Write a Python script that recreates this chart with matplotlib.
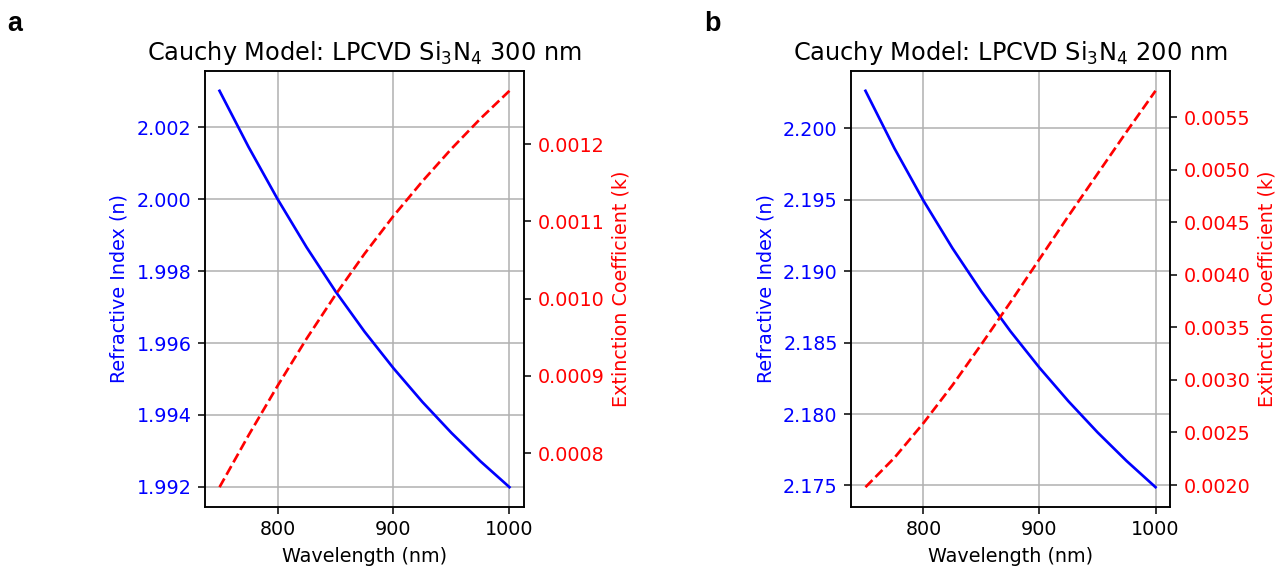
import matplotlib
matplotlib.use("Agg")
import matplotlib.pyplot as plt

# wavelength samples (nm)
wavelength = [750, 775, 800, 825, 850, 875, 900, 925, 950, 975, 1000]

# 300 nm film
n_300 = [2.00302, 2.00146, 2.00001, 1.99867, 1.99744, 1.99632, 1.99530,
         1.99436, 1.99350, 1.99271, 1.99199]
k_300 = [0.000756, 0.000823, 0.000887, 0.000948, 0.001005, 0.001058,
         0.001107, 0.001152, 0.001194, 0.001233, 0.001269]

# 200 nm film
n_200 = [2.20263, 2.19860, 2.19494, 2.19161, 2.18857, 2.18579, 2.18324,
         2.18089, 2.17872, 2.17672, 2.17488]
k_200 = [0.00198, 0.00226, 0.00259, 0.00295, 0.00334, 0.00374, 0.00415,
         0.00456, 0.00496, 0.00536, 0.00575]

x_ticks = [800, 900, 1000]

titles = ["Cauchy Model: LPCVD Si$_3$N$_4$ 300 nm",
          "Cauchy Model: LPCVD Si$_3$N$_4$ 200 nm"]
panel_letters = ["a", "b"]

DPI = 138
fig = plt.figure(figsize=(1287 / DPI, 569 / DPI), dpi=DPI)
positions = [[0.1593, 0.109, 0.2478, 0.7662],
             [0.6612, 0.109, 0.2479, 0.7662]]
letter_pos = [(0.006, 0.945), (0.547, 0.945)]

for i, (n, k) in enumerate([(n_300, k_300), (n_200, k_200)]):
    ax = fig.add_axes(positions[i])
    ax.plot(wavelength, n, color="blue", linewidth=1.4)
    ax.set_xlabel("Wavelength (nm)")
    ax.set_ylabel("Refractive Index (n)", color="blue")
    ax.tick_params(axis="y", labelcolor="blue")
    ax.set_xticks(x_ticks)
    ax.grid(True)
    ax.set_title(titles[i], fontsize=12.5)

    ax2 = ax.twinx()
    ax2.plot(wavelength, k, color="red", linestyle="--", linewidth=1.4)
    ax2.set_ylabel("Extinction Coefficient (k)", color="red")
    ax2.tick_params(axis="y", labelcolor="red")

    fig.text(letter_pos[i][0], letter_pos[i][1], panel_letters[i],
             fontsize=14, fontweight="bold", family="Liberation Sans")

plt.savefig("out.png", dpi=DPI)
